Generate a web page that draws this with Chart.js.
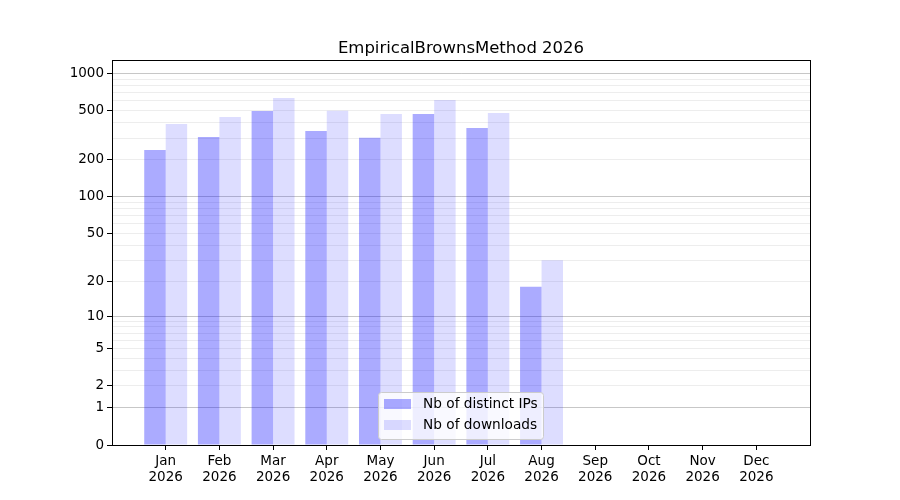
<!DOCTYPE html>
<html>
<head>
<meta charset="utf-8">
<script src="https://cdn.jsdelivr.net/npm/chart.js@4/dist/chart.umd.min.js"></script>
<style>
  html, body { margin: 0; padding: 0; background: #fff; }
  #wrap { width: 900px; height: 500px; }
</style>
</head>
<body>
<div id="wrap"><canvas id="chart" width="900" height="500"></canvas></div>
<script>
const months = ["Jan", "Feb", "Mar", "Apr", "May", "Jun", "Jul", "Aug", "Sep", "Oct", "Nov", "Dec"];
const year = "2026";
const distinctIPs = [240, 306, 498, 343, 303, 471, 363, 18, 0, 0, 0, 0];
const downloads = [390, 445, 634, 500, 471, 611, 480, 30, 0, 0, 0, 0];
const majorTicks = [0, 1, 2, 5, 10, 20, 50, 100, 200, 500, 1000];
const minorTicks = [3, 4, 6, 7, 8, 9, 30, 40, 60, 70, 80, 90, 300, 400, 600, 700, 800, 900];
const strongTicks = [1, 10, 100, 1000];
const yMax = 1287;
const title = "EmpiricalBrownsMethod 2026";

const FONT = "'DejaVu Sans', sans-serif";

// y axis drawn as log10(1 + v)
const f = v => Math.log10(1 + v);

class Log1pScale extends Chart.Scale {
  determineDataLimits() {
    this.min = 0;
    this.max = this.options.max;
  }
  buildTicks() {
    return majorTicks.concat(minorTicks).sort((a, b) => a - b).map(v => ({ value: v }));
  }
  getLabelForValue(v) {
    return String(v);
  }
  getPixelForValue(v) {
    if (v === null || v === undefined || isNaN(v)) return NaN;
    return this.getPixelForDecimal((f(v) - f(this.min)) / (f(this.max) - f(this.min)));
  }
  getValueForPixel(p) {
    const d = this.getDecimalForPixel(p);
    return Math.pow(10, f(this.min) + d * (f(this.max) - f(this.min))) - 1;
  }
}
Log1pScale.id = "log1p";
Log1pScale.defaults = {};
Chart.register(Log1pScale);

// one empty slot on each side, like the reference
const labels = [""].concat(months.map(m => [m, year]), [""]);
const pad = arr => [null].concat(arr, [null]);

// box round the plot + title centred over it
const frame = {
  id: "frame",
  afterDatasetsDraw(chart) {
    const { ctx, chartArea: a } = chart;
    ctx.save();
    ctx.strokeStyle = "#000";
    ctx.lineWidth = 1;
    ctx.strokeRect(Math.round(a.left) + 0.5, Math.round(a.top) + 0.5, Math.round(a.right - a.left), Math.round(a.bottom - a.top));
    ctx.fillStyle = "#000";
    ctx.font = "16.5px " + FONT;
    ctx.textAlign = "center";
    ctx.textBaseline = "alphabetic";
    ctx.fillText(title, (a.left + a.right) / 2, a.top - 7);
    ctx.restore();
  }
};

const boxLegend = {
  id: "boxLegend",
  afterDraw(chart) {
    const ctx = chart.ctx;
    const x = 378.5, y = 392.5, w = 165, h = 47;
    ctx.save();
    ctx.beginPath();
    ctx.roundRect(x, y, w, h, 3);
    ctx.fillStyle = "rgba(255,255,255,0.8)";
    ctx.fill();
    ctx.strokeStyle = "#cccccc";
    ctx.lineWidth = 1;
    ctx.stroke();
    ctx.font = "13.7px " + FONT;
    ctx.textBaseline = "middle";
    chart.data.datasets.forEach((ds, i) => {
      const cy = 404 + i * 21;
      ctx.fillStyle = ds.backgroundColor;
      ctx.fillRect(384, cy - 5, 27, 10);
      ctx.fillStyle = "#000";
      ctx.fillText(ds.label, 423, cy);
    });
    ctx.restore();
  }
};

new Chart(document.getElementById("chart"), {
  type: "bar",
  data: {
    labels: labels,
    datasets: [
      { label: "Nb of distinct IPs", data: pad(distinctIPs), backgroundColor: "rgba(0,0,255,0.33)" },
      { label: "Nb of downloads", data: pad(downloads), backgroundColor: "rgba(0,0,255,0.133)" }
    ]
  },
  options: {
    responsive: false,
    animation: false,
    devicePixelRatio: 1,
    layout: { padding: { left: 0, right: 90, top: 60, bottom: 0 } },
    datasets: { bar: { categoryPercentage: 0.8, barPercentage: 1.0 } },
    plugins: {
      legend: { display: false },
      tooltip: { enabled: false },
      title: { display: false }
    },
    scales: {
      x: {
        offset: false,
        grid: {
          display: true,
          offset: false,
          drawOnChartArea: false,
          tickLength: 5,
          tickColor: c => (c.index === 0 || c.index === labels.length - 1) ? "rgba(0,0,0,0)" : "#000"
        },
        border: { display: true, color: "#000" },
        ticks: {
          color: "#000",
          font: { family: FONT, size: 13.5, lineHeight: 1.2 },
          padding: 3,
          maxRotation: 0,
          autoSkip: false
        },
        afterFit: s => { s.height = 55; }
      },
      y: {
        type: "log1p",
        position: "left",
        max: yMax,
        grid: {
          color: c => strongTicks.includes(c.tick.value) ? "rgba(0,0,0,0.22)"
            : (c.tick.value === 0 ? "rgba(0,0,0,0)" : "rgba(0,0,0,0.07)"),
          tickLength: 5,
          tickColor: c => majorTicks.includes(c.tick.value) ? "#000" : "rgba(0,0,0,0)"
        },
        border: { display: true, color: "#000" },
        ticks: {
          color: "#000",
          font: { family: FONT, size: 13.5 },
          padding: 3,
          autoSkip: false,
          callback: v => majorTicks.includes(v) ? String(v) : ""
        },
        afterFit: s => { s.width = 112; }
      }
    }
  },
  plugins: [frame, boxLegend]
});
</script>
</body>
</html>
